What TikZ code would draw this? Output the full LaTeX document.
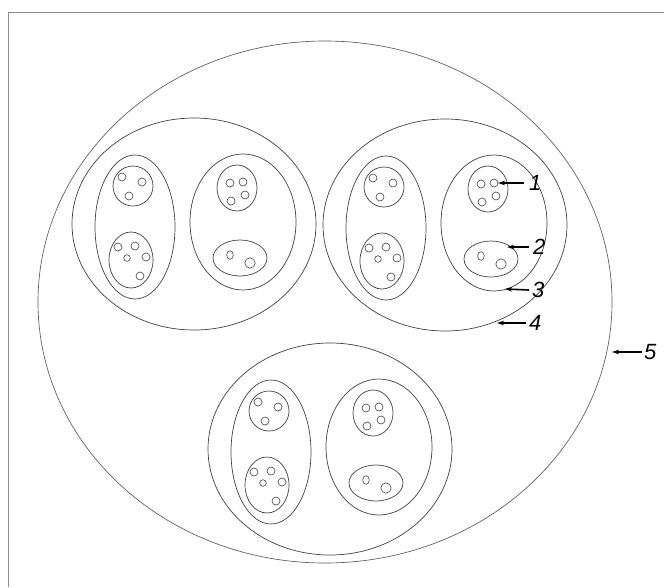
\documentclass[tikz,border=0pt]{standalone}
\usepackage{fontspec}
\setmainfont{Liberation Sans}
\usetikzlibrary{arrows.meta}
\newcommand\cellgroup{%
  \draw[ring] (0,0) ellipse [x radius=122,y radius=106];
  \draw[ring] (-59,3) ellipse [x radius=40,y radius=72];
  \draw[ring] (49,-2) ellipse [x radius=53,y radius=68];
  \draw[ring] (-61,-38) ellipse [x radius=20,y radius=20];
  \draw[ring] (-63,36) ellipse [x radius=22,y radius=28];
  \draw[ring] (43,-36) ellipse [x radius=20,y radius=23];
  \draw[ring] (46,34) ellipse [x radius=27,y radius=18];
  \foreach \p in {(-72,-47),(-52,-42),(-65,-28),
                  (-76,23),(-59,22),(-48,33),(-54,52),
                  (36,-41),(49,-42),(51,-29),(37,-23)}
    \draw[dot] \p circle [radius=4];
  \draw[dot] (-67,34) circle [radius=3.3];
  \draw[dot] (36,31) ellipse [x radius=3.3,y radius=4.3];
  \draw[dot] (56,39) circle [radius=5.2];
}
\begin{document}
\begin{tikzpicture}[x=1pt,y=-1pt,
  ring/.style={draw=black!75,line width=0.7pt},
  dot/.style={draw=black!75,line width=0.6pt},
  lbl/.style={font=\itshape\fontsize{22}{22}\selectfont,inner sep=0pt,anchor=west},
  arr/.style={line width=1.6pt,-{Stealth[length=7pt,width=4.5pt]}}]
\useasboundingbox (0,0) rectangle (664,587);
\draw[black!45,line width=0.8pt] (8,587) -- (8,12) -- (664,12);
% outer body (5)
\draw[draw=black!65,line width=0.65pt] (325,302) ellipse [x radius=287,y radius=261];
% three groups
\begin{scope}[shift={(194,224)}]\cellgroup\end{scope}
\begin{scope}[shift={(445,225)}]\cellgroup\end{scope}
\begin{scope}[shift={(330,449)}]\cellgroup\end{scope}
% target points
\coordinate (t1) at (498,183);
\coordinate (t2) at (507,247);
\coordinate (t3) at (505,289);
\coordinate (t4) at (497,323);
\coordinate (t5) at (612,352);
% labels
\node[lbl] (l1) at (529,183) {1};
\node[lbl] (l2) at (533,247) {2};
\node[lbl] (l3) at (532,290) {3};
\node[lbl] (l4) at (529,323) {4};
\node[lbl] (l5) at (644,352) {5};
\draw[arr] ([xshift=-5pt]l1.west) -- (t1);
\draw[arr] ([xshift=-4pt]l2.west) -- (t2);
\draw[arr] ([xshift=-3pt]l3.west) -- (t3);
\draw[arr] ([xshift=-3pt]l4.west) -- (t4);
\draw[arr] ([xshift=-2pt]l5.west) -- (t5);
\end{tikzpicture}
\end{document}
